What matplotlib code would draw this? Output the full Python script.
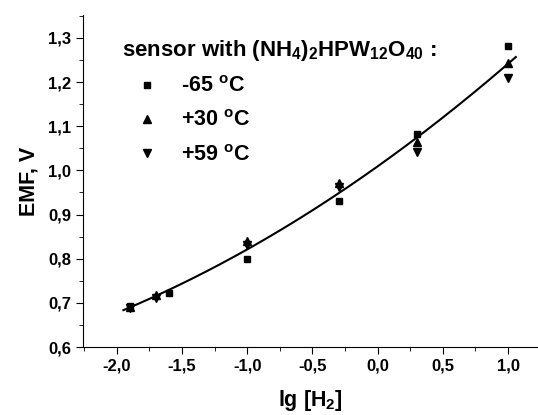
import numpy as np
from matplotlib import pyplot as plt
from matplotlib.ticker import MultipleLocator, FuncFormatter

plt.rcParams['font.family'] = ['Liberation Sans', 'DejaVu Sans']
plt.rcParams['font.weight'] = 'bold'
plt.rcParams['mathtext.fontset'] = 'custom'
plt.rcParams['mathtext.rm'] = 'Liberation Sans:bold'
plt.rcParams['mathtext.it'] = 'Liberation Sans:bold'
plt.rcParams['mathtext.bf'] = 'Liberation Sans:bold'
plt.rcParams['mathtext.default'] = 'rm'

# lg[H2] и ЭДС для трёх температур
x_m65 = [-1.9, -1.6, -1.0, -0.3, 0.3, 1.0]
y_m65 = [0.693, 0.722, 0.80, 0.931, 1.083, 1.282]
x_p30 = [-1.9, -1.7, -1.0, -0.3, 0.3, 1.0]
y_p30 = [0.690, 0.718, 0.840, 0.972, 1.065, 1.244]
x_p59 = [-1.9, -1.7, -1.0, -0.3, 0.3, 1.0]
y_p59 = [0.688, 0.712, 0.830, 0.963, 1.042, 1.210]

fig = plt.figure(figsize=(5.38, 4.15), dpi=100)
ax = fig.add_axes([83/538, 68/415, 1 - 83/538, 332/415])

ax.plot(x_m65, y_m65, 's', color='black', ms=5, label='-65 $^o$C')
ax.plot(x_p30, y_p30, '^', color='black', ms=6, label='+30 $^o$C')
ax.plot(x_p59, y_p59, 'v', color='black', ms=6, label='+59 $^o$C')

# аппроксимация по всем точкам
xa = np.array(x_m65 + x_p30 + x_p59)
ya = np.array(y_m65 + y_p30 + y_p59)
k = np.polyfit(xa, ya, 2)
xf = np.linspace(-1.95, 1.06, 200)
ax.plot(xf, np.polyval(k, xf), '-', color='black', lw=1.5)

ax.set_xlim(-2.26, 1.23)
ax.set_ylim(0.6, 1.352)
ax.spines['top'].set_visible(False)
ax.spines['right'].set_visible(False)
ax.xaxis.set_major_locator(MultipleLocator(0.5))
ax.xaxis.set_minor_locator(MultipleLocator(0.25))
ax.yaxis.set_major_locator(MultipleLocator(0.1))
ax.yaxis.set_minor_locator(MultipleLocator(0.05))
fmt = FuncFormatter(lambda v, p: ('%.1f' % v).replace('.', ','))
ax.xaxis.set_major_formatter(fmt)
ax.yaxis.set_major_formatter(fmt)
ax.tick_params(which='major', direction='out', length=5, labelsize=12)
ax.tick_params(which='minor', direction='out', length=3)

ax.set_xlabel('lg [H$_2$]', fontsize=15.5, fontweight='bold', labelpad=10)
ax.set_ylabel('EMF, V', fontsize=15.5, fontweight='bold', labelpad=6)

leg = ax.legend(loc='upper left', bbox_to_anchor=(111/538, 1 - 27/415),
                bbox_transform=fig.transFigure, frameon=False,
                title='sensor with (NH$_4$)$_2$HPW$_{12}$O$_{40}$ :',
                title_fontproperties={'size': 16, 'weight': 'bold'},
                alignment='left', prop={'size': 15.5, 'weight': 'bold'},
                handlelength=2.3, handletextpad=0.47, labelspacing=0.62,
                borderpad=0)

plt.savefig('out.png', dpi=100)
